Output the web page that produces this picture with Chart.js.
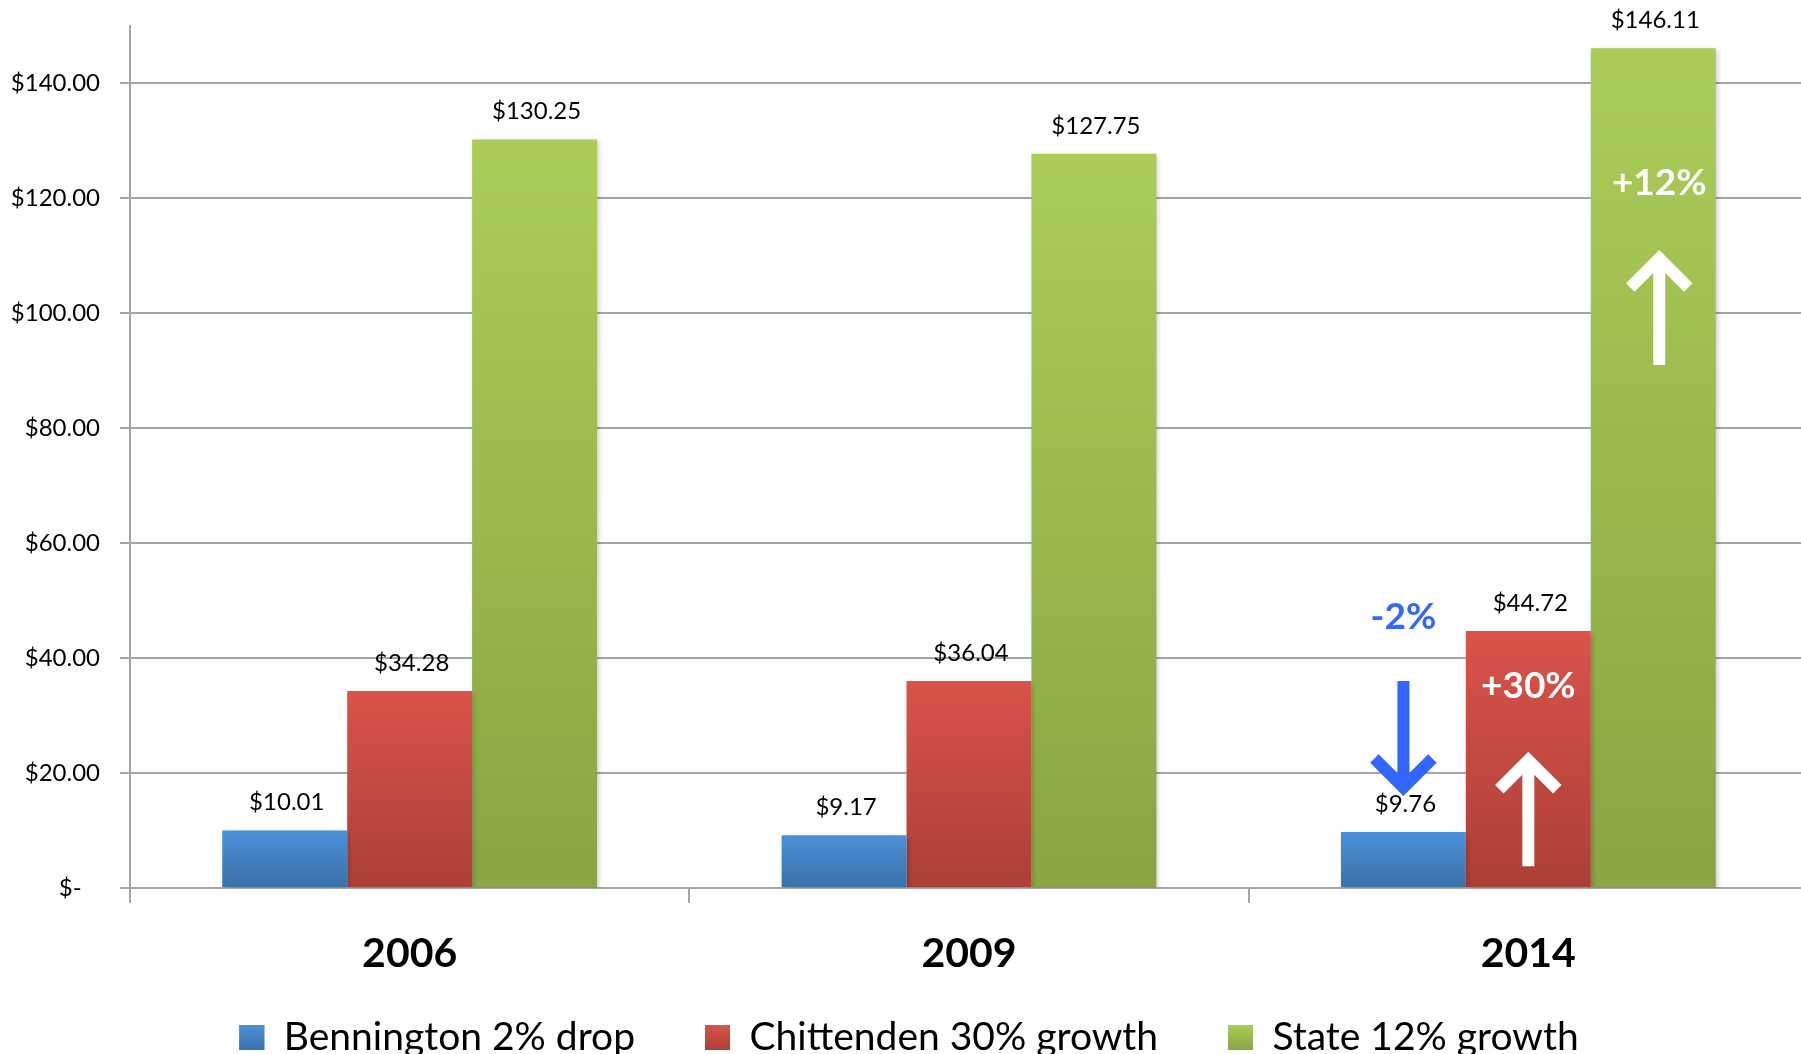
<!DOCTYPE html>
<html>
<head>
<meta charset="utf-8">
<script src="https://cdn.jsdelivr.net/npm/chart.js@4.4.1/dist/chart.umd.min.js"></script>
<style>
  html, body { margin: 0; padding: 0; background: #fff; overflow: hidden; }
  canvas { display: block; }
</style>
</head>
<body>
<!-- a bit larger than the window: the legend sits partly below the visible edge, as in the original -->
<canvas id="costChart" width="1808" height="1067"></canvas>
<script>
const years = ["2006", "2009", "2014"];
const seriesNames = ["Bennington 2% drop", "Chittenden 30% growth", "State 12% growth"];
const bennington = [10.01, 9.17, 9.76];
const chittenden = [34.28, 36.04, 44.72];
const state = [130.25, 127.75, 146.11];
const yTicks = [0, 20, 40, 60, 80, 100, 120, 140];
const changeLabels = ["-2%", "+30%", "+12%"];

// top / mid / bottom of each series gradient
const palette = [
  ["#4b91d9", "#4381c3", "#3a70a8"],
  ["#d9534a", "#c44a41", "#ac3f37"],
  ["#abcd58", "#9bb94e", "#89a544"],
];

// where the change notes sit on the last year's bars, in axis units
const notePlaces = [
  { color: "#3366ff", textAt: 47.2, from: 36.0, to: 16.0 },
  { color: "#ffffff", textAt: 35.1, from: 3.8, to: 23.7 },
  { color: "#ffffff", textAt: 122.6, from: 91.0, to: 111.0 },
];

const FONT = "Lato, 'Open Sans', sans-serif";
const LEGEND_SIZE = 39;
const LEGEND_BOX = 25;

function gradient(ctx, i, top, bottom) {
  const g = ctx.createLinearGradient(0, top, 0, bottom);
  g.addColorStop(0, palette[i][0]);
  g.addColorStop(1, palette[i][2]);
  return g;
}

function barFill(i) {
  return (c) => {
    if (c.type !== "data") return palette[i][1];
    const ys = c.chart.scales.y;
    if (!ys) return palette[i][1];
    const top = ys.getPixelForValue(c.raw);
    const bottom = ys.getPixelForValue(0);
    if (!isFinite(top) || !isFinite(bottom) || top === bottom) return palette[i][1];
    return gradient(c.chart.ctx, i, top, bottom);
  };
}

const barShadow = {
  id: "barShadow",
  beforeDatasetsDraw(chart) {
    const ctx = chart.ctx;
    ctx.save();
    ctx.shadowColor = "rgba(0,0,0,0.22)";
    ctx.shadowBlur = 5;
    ctx.shadowOffsetX = 2;
    ctx.shadowOffsetY = 2;
  },
  afterDatasetsDraw(chart) {
    chart.ctx.restore();
  },
};

const valueLabels = {
  id: "valueLabels",
  afterDatasetsDraw(chart) {
    const ctx = chart.ctx;
    ctx.save();
    ctx.font = "24px " + FONT;
    ctx.fillStyle = "#000";
    ctx.textAlign = "center";
    ctx.textBaseline = "middle";
    chart.data.datasets.forEach((ds, i) => {
      chart.getDatasetMeta(i).data.forEach((bar, j) => {
        ctx.fillText("$" + ds.data[j].toFixed(2), bar.x + 2, bar.y - 28);
      });
    });
    ctx.restore();
  },
};

function drawArrow(ctx, x, yTail, yTip, color) {
  const dir = yTip < yTail ? -1 : 1; // -1 points up
  const w = 12;
  const arm = 29;
  const vertex = yTip - dir * (w / 2) * Math.SQRT2;
  ctx.save();
  ctx.strokeStyle = color;
  ctx.lineWidth = w;
  ctx.lineCap = "butt";
  ctx.lineJoin = "miter";
  ctx.beginPath();
  ctx.moveTo(x, yTail);
  ctx.lineTo(x, vertex);
  ctx.stroke();
  ctx.beginPath();
  ctx.moveTo(x - arm, vertex - dir * arm);
  ctx.lineTo(x, vertex);
  ctx.lineTo(x + arm, vertex - dir * arm);
  ctx.stroke();
  ctx.restore();
}

const changeNotes = {
  id: "changeNotes",
  afterDatasetsDraw(chart) {
    const ctx = chart.ctx;
    const ys = chart.scales.y;
    const last = years.length - 1;
    notePlaces.forEach((p, i) => {
      const bar = chart.getDatasetMeta(i).data[last];
      const x = bar.x + (i === 2 ? 6 : 0);
      ctx.save();
      ctx.font = "bold 37px " + FONT;
      ctx.fillStyle = p.color;
      ctx.textAlign = "center";
      ctx.textBaseline = "middle";
      ctx.fillText(changeLabels[i], x, ys.getPixelForValue(p.textAt));
      ctx.restore();
      drawArrow(ctx, x, ys.getPixelForValue(p.from), ys.getPixelForValue(p.to), p.color);
    });
  },
};

// repaint the legend swatches with the same shading as the bars
const legendShading = {
  id: "legendShading",
  afterDraw(chart) {
    const boxes = chart.legend && chart.legend.legendHitBoxes;
    if (!boxes) return;
    const ctx = chart.ctx;
    boxes.forEach((hb, i) => {
      const top = hb.top + Math.max((LEGEND_SIZE - LEGEND_BOX) / 2, 0);
      ctx.save();
      ctx.fillStyle = gradient(ctx, i, top, top + LEGEND_BOX);
      ctx.fillRect(hb.left, top, LEGEND_BOX, LEGEND_BOX);
      ctx.restore();
    });
  },
};

const chart = new Chart(document.getElementById("costChart"), {
  type: "bar",
  data: {
    labels: years,
    datasets: [bennington, chittenden, state].map((values, i) => ({
      label: seriesNames[i],
      data: values,
      backgroundColor: barFill(i),
      borderWidth: 0,
      barPercentage: 1,
      categoryPercentage: 0.67,
    })),
  },
  options: {
    responsive: false,
    animation: false,
    layout: { padding: { top: 26, bottom: 0, left: 10, right: 0 } },
    scales: {
      x: {
        afterFit: (s) => { s.height = 120; },
        grid: {
          drawOnChartArea: false,
          drawTicks: true,
          tickLength: 15,
          color: "#a5a5a5",
          lineWidth: 2,
        },
        border: { color: "#a5a5a5", width: 2 },
        ticks: {
          padding: 26,
          color: "#000",
          font: { family: FONT, size: 41, weight: "bold" },
        },
      },
      y: {
        min: 0,
        max: 150,
        afterFit: (s) => {
          s.width = 120;
          // the top label sits well below the plot top, no extra room needed
          s.paddingTop = 0;
          s.paddingBottom = 0;
        },
        afterBuildTicks: (s) => { s.ticks = yTicks.map((v) => ({ value: v })); },
        grid: { color: "#a5a5a5", lineWidth: 2, tickLength: 10 },
        border: { color: "#a5a5a5", width: 2 },
        ticks: {
          padding: 20,
          color: "#000",
          font: { family: FONT, size: 24 },
          callback: (v) => (v === 0 ? "$-   " : "$" + v.toFixed(2)),
        },
      },
    },
    plugins: {
      legend: {
        position: "bottom",
        labels: {
          color: "#000",
          font: { family: FONT, size: LEGEND_SIZE },
          boxWidth: LEGEND_BOX,
          boxHeight: LEGEND_BOX,
          padding: 10,
          generateLabels: (c) => {
            const items = Chart.defaults.plugins.legend.labels.generateLabels(c);
            items.forEach((item, i) => {
              item.fillStyle = palette[i][1];
              // Excel leaves a wide gap before the next entry
              if (i < items.length - 1) item.text += "      ";
            });
            return items;
          },
        },
      },
      tooltip: { enabled: false },
    },
  },
  plugins: [barShadow, valueLabels, changeNotes, legendShading],
});
</script>
</body>
</html>
